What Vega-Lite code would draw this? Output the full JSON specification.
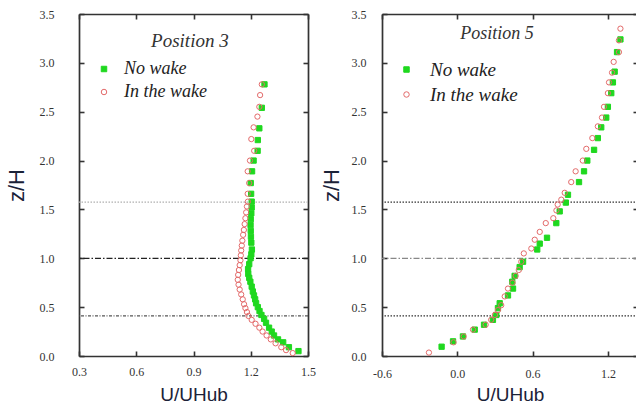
{
  "$schema": "https://vega.github.io/schema/vega-lite/v6.json",
  "background": "white",
  "padding": {"left": 5, "top": 8, "right": 0, "bottom": 0},
  "spacing": 4,
  "resolve": {
    "scale": {"color": "independent", "strokeDash": "independent", "shape": "independent", "fill": "independent", "stroke": "independent"},
    "legend": {"shape": "independent", "fill": "independent", "stroke": "independent", "color": "independent", "strokeDash": "independent"}
  },
  "config": {
    "view": {"stroke": null},
    "axis": {"grid": false, "domainColor": "#333333", "domainWidth": 1.7, "tickColor": "#333333", "tickSize": -5, "tickWidth": 1.6, "labelFont": "Liberation Serif", "labelFontSize": 12, "labelColor": "#333333", "titleFont": "Liberation Sans", "titleColor": "#1b2238", "titleFontWeight": "normal", "labelFlush": false, "labelOverlap": false},
    "legend": {"orient": "none", "title": null, "labelFont": "Liberation Serif", "labelFontStyle": "italic", "labelFontSize": 18, "labelColor": "#222222", "rowPadding": 5, "symbolSize": 30, "symbolStrokeWidth": 1, "padding": 0}
  },
  "datasets": {
    "pos3": [
      {"series": "No wake", "u": 1.272, "z": 2.78}, {"series": "No wake", "u": 1.258, "z": 2.54}, {"series": "No wake", "u": 1.245, "z": 2.33}, {"series": "No wake", "u": 1.237, "z": 2.21}, {"series": "No wake", "u": 1.236, "z": 2.10}, {"series": "No wake", "u": 1.215, "z": 2.00}, {"series": "No wake", "u": 1.207, "z": 1.89}, {"series": "No wake", "u": 1.200, "z": 1.77}, {"series": "No wake", "u": 1.202, "z": 1.66}, {"series": "No wake", "u": 1.205, "z": 1.58}, {"series": "No wake", "u": 1.205, "z": 1.52}, {"series": "No wake", "u": 1.203, "z": 1.46}, {"series": "No wake", "u": 1.200, "z": 1.40}, {"series": "No wake", "u": 1.199, "z": 1.34}, {"series": "No wake", "u": 1.200, "z": 1.28}, {"series": "No wake", "u": 1.201, "z": 1.22}, {"series": "No wake", "u": 1.203, "z": 1.16}, {"series": "No wake", "u": 1.206, "z": 1.09}, {"series": "No wake", "u": 1.203, "z": 1.04}, {"series": "No wake", "u": 1.199, "z": 1.00}, {"series": "No wake", "u": 1.192, "z": 0.94}, {"series": "No wake", "u": 1.186, "z": 0.89}, {"series": "No wake", "u": 1.187, "z": 0.84}, {"series": "No wake", "u": 1.192, "z": 0.80}, {"series": "No wake", "u": 1.198, "z": 0.76}, {"series": "No wake", "u": 1.205, "z": 0.71}, {"series": "No wake", "u": 1.211, "z": 0.66}, {"series": "No wake", "u": 1.217, "z": 0.62}, {"series": "No wake", "u": 1.223, "z": 0.58}, {"series": "No wake", "u": 1.228, "z": 0.54}, {"series": "No wake", "u": 1.237, "z": 0.50}, {"series": "No wake", "u": 1.246, "z": 0.46}, {"series": "No wake", "u": 1.256, "z": 0.42}, {"series": "No wake", "u": 1.270, "z": 0.38}, {"series": "No wake", "u": 1.280, "z": 0.34}, {"series": "No wake", "u": 1.296, "z": 0.29}, {"series": "No wake", "u": 1.310, "z": 0.25}, {"series": "No wake", "u": 1.322, "z": 0.21}, {"series": "No wake", "u": 1.343, "z": 0.17}, {"series": "No wake", "u": 1.370, "z": 0.14}, {"series": "No wake", "u": 1.400, "z": 0.09}, {"series": "No wake", "u": 1.450, "z": 0.05},
      {"series": "In the wake", "u": 1.258, "z": 2.78}, {"series": "In the wake", "u": 1.249, "z": 2.67}, {"series": "In the wake", "u": 1.245, "z": 2.55}, {"series": "In the wake", "u": 1.235, "z": 2.45}, {"series": "In the wake", "u": 1.215, "z": 2.34}, {"series": "In the wake", "u": 1.203, "z": 2.22}, {"series": "In the wake", "u": 1.218, "z": 2.10}, {"series": "In the wake", "u": 1.196, "z": 2.00}, {"series": "In the wake", "u": 1.184, "z": 1.89}, {"series": "In the wake", "u": 1.192, "z": 1.77}, {"series": "In the wake", "u": 1.184, "z": 1.66}, {"series": "In the wake", "u": 1.185, "z": 1.58}, {"series": "In the wake", "u": 1.180, "z": 1.53}, {"series": "In the wake", "u": 1.176, "z": 1.47}, {"series": "In the wake", "u": 1.172, "z": 1.41}, {"series": "In the wake", "u": 1.168, "z": 1.35}, {"series": "In the wake", "u": 1.164, "z": 1.29}, {"series": "In the wake", "u": 1.160, "z": 1.24}, {"series": "In the wake", "u": 1.156, "z": 1.18}, {"series": "In the wake", "u": 1.153, "z": 1.13}, {"series": "In the wake", "u": 1.150, "z": 1.08}, {"series": "In the wake", "u": 1.148, "z": 1.03}, {"series": "In the wake", "u": 1.146, "z": 0.98}, {"series": "In the wake", "u": 1.142, "z": 0.93}, {"series": "In the wake", "u": 1.138, "z": 0.88}, {"series": "In the wake", "u": 1.134, "z": 0.83}, {"series": "In the wake", "u": 1.132, "z": 0.78}, {"series": "In the wake", "u": 1.136, "z": 0.73}, {"series": "In the wake", "u": 1.142, "z": 0.68}, {"series": "In the wake", "u": 1.150, "z": 0.63}, {"series": "In the wake", "u": 1.158, "z": 0.58}, {"series": "In the wake", "u": 1.165, "z": 0.53}, {"series": "In the wake", "u": 1.172, "z": 0.49}, {"series": "In the wake", "u": 1.180, "z": 0.45}, {"series": "In the wake", "u": 1.188, "z": 0.41}, {"series": "In the wake", "u": 1.205, "z": 0.37}, {"series": "In the wake", "u": 1.225, "z": 0.33}, {"series": "In the wake", "u": 1.245, "z": 0.29}, {"series": "In the wake", "u": 1.262, "z": 0.25}, {"series": "In the wake", "u": 1.283, "z": 0.21}, {"series": "In the wake", "u": 1.305, "z": 0.17}, {"series": "In the wake", "u": 1.330, "z": 0.13}, {"series": "In the wake", "u": 1.360, "z": 0.09}, {"series": "In the wake", "u": 1.385, "z": 0.06}, {"series": "In the wake", "u": 1.420, "z": 0.03}
    ],
    "pos5": [
      {"series": "No wake", "u": 1.300, "z": 3.24}, {"series": "No wake", "u": 1.273, "z": 3.11}, {"series": "No wake", "u": 1.254, "z": 2.91}, {"series": "No wake", "u": 1.240, "z": 2.80}, {"series": "No wake", "u": 1.227, "z": 2.69}, {"series": "No wake", "u": 1.200, "z": 2.55}, {"series": "No wake", "u": 1.187, "z": 2.44}, {"series": "No wake", "u": 1.147, "z": 2.34}, {"series": "No wake", "u": 1.120, "z": 2.23}, {"series": "No wake", "u": 1.090, "z": 2.11}, {"series": "No wake", "u": 1.036, "z": 2.00}, {"series": "No wake", "u": 1.010, "z": 1.89}, {"series": "No wake", "u": 0.970, "z": 1.78}, {"series": "No wake", "u": 0.882, "z": 1.65}, {"series": "No wake", "u": 0.865, "z": 1.57}, {"series": "No wake", "u": 0.816, "z": 1.48}, {"series": "No wake", "u": 0.789, "z": 1.36}, {"series": "No wake", "u": 0.715, "z": 1.21}, {"series": "No wake", "u": 0.657, "z": 1.15}, {"series": "No wake", "u": 0.637, "z": 1.09}, {"series": "No wake", "u": 0.524, "z": 0.965}, {"series": "No wake", "u": 0.497, "z": 0.91}, {"series": "No wake", "u": 0.457, "z": 0.82}, {"series": "No wake", "u": 0.438, "z": 0.76}, {"series": "No wake", "u": 0.444, "z": 0.69}, {"series": "No wake", "u": 0.404, "z": 0.62}, {"series": "No wake", "u": 0.338, "z": 0.54}, {"series": "No wake", "u": 0.324, "z": 0.49}, {"series": "No wake", "u": 0.311, "z": 0.42}, {"series": "No wake", "u": 0.284, "z": 0.37}, {"series": "No wake", "u": 0.213, "z": 0.32}, {"series": "No wake", "u": 0.139, "z": 0.27}, {"series": "No wake", "u": 0.045, "z": 0.20}, {"series": "No wake", "u": -0.034, "z": 0.15}, {"series": "No wake", "u": -0.125, "z": 0.095},
      {"series": "In the wake", "u": 1.300, "z": 3.35}, {"series": "In the wake", "u": 1.288, "z": 3.23}, {"series": "In the wake", "u": 1.288, "z": 3.11}, {"series": "In the wake", "u": 1.246, "z": 3.01}, {"series": "In the wake", "u": 1.233, "z": 2.90}, {"series": "In the wake", "u": 1.209, "z": 2.80}, {"series": "In the wake", "u": 1.200, "z": 2.69}, {"series": "In the wake", "u": 1.169, "z": 2.55}, {"series": "In the wake", "u": 1.153, "z": 2.44}, {"series": "In the wake", "u": 1.120, "z": 2.35}, {"series": "In the wake", "u": 1.076, "z": 2.23}, {"series": "In the wake", "u": 1.028, "z": 2.12}, {"series": "In the wake", "u": 1.000, "z": 2.00}, {"series": "In the wake", "u": 0.943, "z": 1.89}, {"series": "In the wake", "u": 0.908, "z": 1.78}, {"series": "In the wake", "u": 0.856, "z": 1.67}, {"series": "In the wake", "u": 0.829, "z": 1.60}, {"series": "In the wake", "u": 0.800, "z": 1.55}, {"series": "In the wake", "u": 0.790, "z": 1.49}, {"series": "In the wake", "u": 0.765, "z": 1.41}, {"series": "In the wake", "u": 0.705, "z": 1.36}, {"series": "In the wake", "u": 0.657, "z": 1.27}, {"series": "In the wake", "u": 0.617, "z": 1.19}, {"series": "In the wake", "u": 0.590, "z": 1.10}, {"series": "In the wake", "u": 0.530, "z": 1.05}, {"series": "In the wake", "u": 0.510, "z": 0.965}, {"series": "In the wake", "u": 0.490, "z": 0.88}, {"series": "In the wake", "u": 0.465, "z": 0.82}, {"series": "In the wake", "u": 0.440, "z": 0.75}, {"series": "In the wake", "u": 0.404, "z": 0.69}, {"series": "In the wake", "u": 0.378, "z": 0.61}, {"series": "In the wake", "u": 0.350, "z": 0.52}, {"series": "In the wake", "u": 0.324, "z": 0.47}, {"series": "In the wake", "u": 0.300, "z": 0.42}, {"series": "In the wake", "u": 0.270, "z": 0.37}, {"series": "In the wake", "u": 0.226, "z": 0.32}, {"series": "In the wake", "u": 0.125, "z": 0.27}, {"series": "In the wake", "u": 0.051, "z": 0.20}, {"series": "In the wake", "u": -0.030, "z": 0.14}, {"series": "In the wake", "u": -0.226, "z": 0.035}
    ],
    "lines3": [{"z": 1.575, "line": "upper"}, {"z": 1.0, "line": "hub"}, {"z": 0.41, "line": "lower"}],
    "lines5": [{"z": 1.575, "line": "upper"}, {"z": 1.0, "line": "hub"}, {"z": 0.41, "line": "lower"}],
    "title3": [{"u": 0.881, "z": 3.22, "label": "Position 3"}],
    "title5": [{"u": 0.316, "z": 3.30, "label": "Position 5"}]
  },
  "hconcat": [
    {
      "width": 229,
      "height": 342,
      "resolve": {"axis": {"x": "independent", "y": "independent"}},
      "layer": [
        {
          "data": {"name": "lines3"},
          "mark": {"type": "rule", "strokeWidth": 1.3},
          "encoding": {
            "y": {"field": "z", "type": "quantitative", "scale": {"domain": [0, 3.5], "nice": false, "zero": false}, "axis": null},
            "strokeDash": {"field": "line", "type": "nominal", "scale": {"domain": ["upper", "hub", "lower"], "range": [[1.5, 1.5], [6, 2, 1.5, 2], [3, 1.5, 1, 1.5]]}, "legend": null},
            "color": {"field": "line", "type": "nominal", "scale": {"domain": ["upper", "hub", "lower"], "range": ["#b0b0b0", "#222222", "#555555"]}, "legend": null}
          }
        },
        {
          "data": {"name": "pos3"},
          "mark": {"type": "point", "size": 28, "strokeWidth": 1, "opacity": 1},
          "encoding": {
            "x": {"field": "u", "type": "quantitative", "scale": {"domain": [0.3, 1.5], "nice": false, "zero": false}, "axis": {"orient": "bottom", "values": [0.3, 0.6, 0.9, 1.2, 1.5], "format": ".1f", "labelPadding": 15, "title": "U/UHub", "titleFontSize": 19, "titlePadding": 8}},
            "y": {"field": "z", "type": "quantitative", "scale": {"domain": [0, 3.5], "nice": false, "zero": false}, "axis": {"orient": "left", "values": [0, 0.5, 1, 1.5, 2, 2.5, 3, 3.5], "format": ".1f", "labelPadding": 30, "title": "z/H", "titleFontSize": 22, "titlePadding": 11}},
            "shape": {"field": "series", "type": "nominal", "scale": {"domain": ["No wake", "In the wake"], "range": ["square", "circle"]}, "legend": {"legendX": 16, "legendY": 46, "labelOffset": 11}},
            "fill": {"field": "series", "type": "nominal", "scale": {"domain": ["No wake", "In the wake"], "range": ["#1fd81f", "transparent"]}, "legend": {"legendX": 16, "legendY": 46, "labelOffset": 11}},
            "stroke": {"field": "series", "type": "nominal", "scale": {"domain": ["No wake", "In the wake"], "range": ["#1fd81f", "#e36a6a"]}, "legend": {"legendX": 16, "legendY": 46, "labelOffset": 11}}
          }
        },
        {
          "data": {"name": "title3"},
          "mark": {"type": "text", "font": "Liberation Serif", "fontStyle": "italic", "fontSize": 19, "color": "#333333", "align": "center", "baseline": "middle"},
          "encoding": {
            "x": {"field": "u", "type": "quantitative", "scale": {"domain": [0.3, 1.5], "nice": false, "zero": false}, "axis": {"orient": "top", "values": [0.3, 0.6, 0.9, 1.2, 1.5], "labels": false, "title": null}},
            "y": {"field": "z", "type": "quantitative", "scale": {"domain": [0, 3.5], "nice": false, "zero": false}, "axis": {"orient": "right", "values": [0, 0.5, 1, 1.5, 2, 2.5, 3, 3.5], "labels": false, "title": null}},
            "text": {"field": "label"}
          }
        }
      ]
    },
    {
      "width": 256,
      "height": 342,
      "resolve": {"axis": {"x": "independent", "y": "independent"}},
      "layer": [
        {
          "data": {"name": "lines5"},
          "mark": {"type": "rule", "strokeWidth": 1.3},
          "encoding": {
            "y": {"field": "z", "type": "quantitative", "scale": {"domain": [0, 3.5], "nice": false, "zero": false}, "axis": null},
            "strokeDash": {"field": "line", "type": "nominal", "scale": {"domain": ["upper", "hub", "lower"], "range": [[1.5, 1.5], [6, 2, 1.5, 2], [1.5, 1.5]]}, "legend": null},
            "color": {"field": "line", "type": "nominal", "scale": {"domain": ["upper", "hub", "lower"], "range": ["#333333", "#888888", "#333333"]}, "legend": null}
          }
        },
        {
          "data": {"name": "pos5"},
          "mark": {"type": "point", "size": 28, "strokeWidth": 1, "opacity": 1},
          "encoding": {
            "x": {"field": "u", "type": "quantitative", "scale": {"domain": [-0.6, 1.44], "nice": false, "zero": false}, "axis": {"orient": "bottom", "values": [-0.6, 0, 0.6, 1.2], "labelExpr": "replace(format(datum.value, '.1f'), '\u2212', '-')", "labelPadding": 17, "title": "U/UHub", "titleFontSize": 19, "titlePadding": 6}},
            "y": {"field": "z", "type": "quantitative", "scale": {"domain": [0, 3.5], "nice": false, "zero": false}, "axis": {"orient": "left", "values": [0, 0.5, 1, 1.5, 2, 2.5, 3, 3.5], "format": ".1f", "labelPadding": 21, "title": "z/H", "titleFontSize": 22, "titlePadding": 8}},
            "shape": {"field": "series", "type": "nominal", "scale": {"domain": ["No wake", "In the wake"], "range": ["square", "circle"]}, "legend": {"legendX": 15, "legendY": 46, "labelOffset": 14, "labelFontSize": 19}},
            "fill": {"field": "series", "type": "nominal", "scale": {"domain": ["No wake", "In the wake"], "range": ["#1fd81f", "transparent"]}, "legend": {"legendX": 15, "legendY": 46, "labelOffset": 14, "labelFontSize": 19}},
            "stroke": {"field": "series", "type": "nominal", "scale": {"domain": ["No wake", "In the wake"], "range": ["#1fd81f", "#e36a6a"]}, "legend": {"legendX": 15, "legendY": 46, "labelOffset": 14, "labelFontSize": 19}}
          }
        },
        {
          "data": {"name": "title5"},
          "mark": {"type": "text", "font": "Liberation Serif", "fontStyle": "italic", "fontSize": 18, "color": "#333333", "align": "center", "baseline": "middle"},
          "encoding": {
            "x": {"field": "u", "type": "quantitative", "scale": {"domain": [-0.6, 1.44], "nice": false, "zero": false}, "axis": {"orient": "top", "values": [-0.6, 0, 0.6, 1.2], "labels": false, "title": null}},
            "y": {"field": "z", "type": "quantitative", "scale": {"domain": [0, 3.5], "nice": false, "zero": false}, "axis": {"orient": "right", "values": [0, 0.5, 1, 1.5, 2, 2.5, 3, 3.5], "labels": false, "title": null}},
            "text": {"field": "label"}
          }
        }
      ]
    }
  ]
}
